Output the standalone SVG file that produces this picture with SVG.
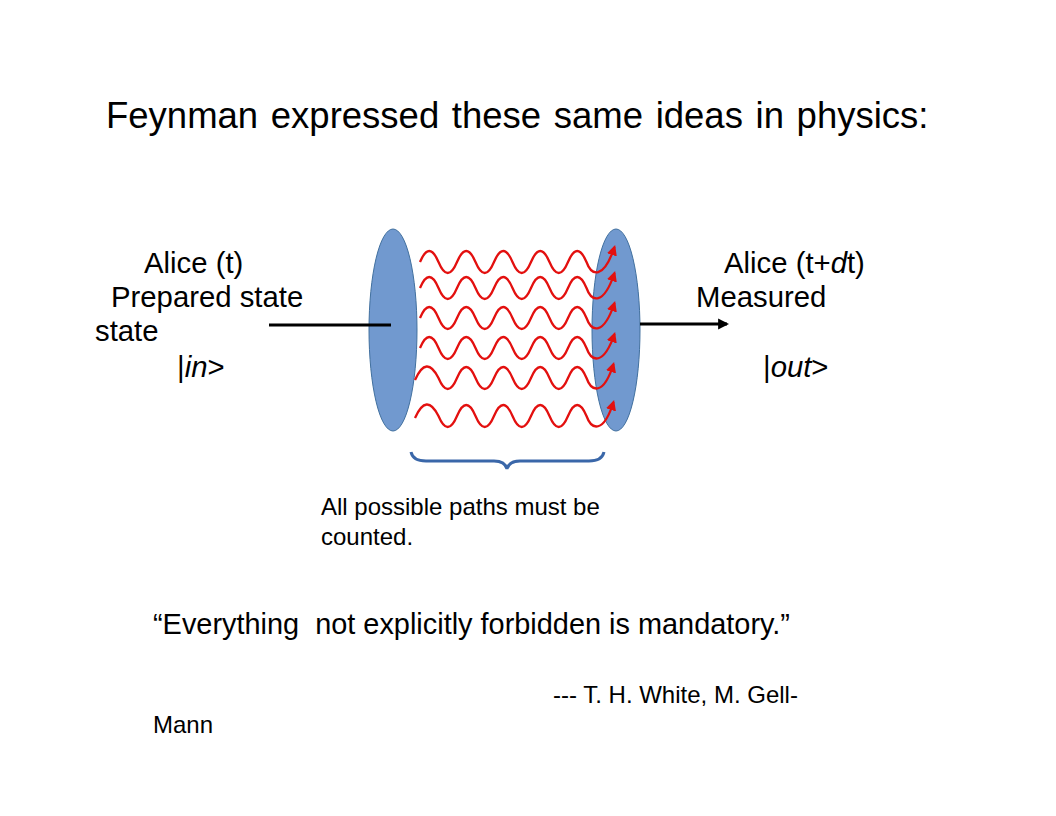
<svg xmlns="http://www.w3.org/2000/svg" width="1056" height="816" viewBox="0 0 1056 816">
<style>
text{font-family:"Liberation Sans",Arial,sans-serif;fill:#000}
.t28{font-size:29.3px}
.t24{font-size:24px}
.wave{fill:none;stroke:#E3100F;stroke-width:2.3;marker-end:url(#ra)}
.disk{fill:#7199CF;stroke:#41709F;stroke-width:1}
</style>
<defs>
<marker id="ra" viewBox="0 0 10 10" refX="8" refY="5" markerWidth="4.5" markerHeight="4.5" orient="auto" markerUnits="strokeWidth">
<path d="M0,0 L10,5 L0,10 z" fill="#E3100F"/>
</marker>
<marker id="ka" viewBox="0 0 10 10" refX="8" refY="5" markerWidth="3.7" markerHeight="3.7" orient="auto" markerUnits="strokeWidth">
<path d="M0,0 L10,5 L0,10 z" fill="#000"/>
</marker>
</defs>
<g id="title"><text x="106" y="128" style="font-size:36.5px;word-spacing:2.5px">Feynman expressed these same ideas in physics:</text></g>

<g id="left-disk"><ellipse class="disk" cx="393" cy="330" rx="24" ry="101"/></g>
<g id="right-disk"><ellipse class="disk" cx="616" cy="330" rx="24" ry="101"/></g>

<g id="connectors">
<line x1="269" y1="325" x2="391" y2="325" stroke="#000" stroke-width="3"/>
<line x1="640" y1="324" x2="727" y2="324" stroke="#000" stroke-width="3" marker-end="url(#ka)"/>
</g>

<g id="paths">
<path class="wave" d="M420,262 q9.25,-22 18.5,0 q9.25,22 18.5,0 q9.25,-22 18.5,0 q9.25,22 18.5,0 q9.25,-22 18.5,0 q9.25,22 18.5,0 q9.25,-22 18.5,0 q9.25,22 18.5,0 q9.25,-22 18.5,0 c5,14 17,18 28,-15"/>
<path class="wave" d="M420,288 q9.25,-22 18.5,0 q9.25,22 18.5,0 q9.25,-22 18.5,0 q9.25,22 18.5,0 q9.25,-22 18.5,0 q9.25,22 18.5,0 q9.25,-22 18.5,0 q9.25,22 18.5,0 q9.25,-22 18.5,0 c5,14 17,18 28,-15"/>
<path class="wave" d="M420,318 q9.25,-22 18.5,0 q9.25,22 18.5,0 q9.25,-22 18.5,0 q9.25,22 18.5,0 q9.25,-22 18.5,0 q9.25,22 18.5,0 q9.25,-22 18.5,0 q9.25,22 18.5,0 q9.25,-22 18.5,0 c5,14 17,18 28,-15"/>
<path class="wave" d="M420,348 q9.25,-22 18.5,0 q9.25,22 18.5,0 q9.25,-22 18.5,0 q9.25,22 18.5,0 q9.25,-22 18.5,0 q9.25,22 18.5,0 q9.25,-22 18.5,0 q9.25,22 18.5,0 q9.25,-22 18.5,0 c5,14 17,18 28,-14"/>
<path class="wave" d="M415,380 q11.5,-26 23.5,-2 q9.25,22 18.5,0 q9.25,-22 18.5,0 q9.25,22 18.5,0 q9.25,-22 18.5,0 q9.25,22 18.5,0 q9.25,-22 18.5,0 q9.25,22 18.5,0 q9.25,-22 18.5,0 c5,14 17,18 27,-14"/>
<path class="wave" d="M415,418 q11.5,-26 23.5,-2 q9.25,22 18.5,0 q9.25,-22 18.5,0 q9.25,22 18.5,0 q9.25,-22 18.5,0 q9.25,22 18.5,0 q9.25,-22 18.5,0 q9.25,22 18.5,0 q9.25,-22 18.5,0 c5,14 17,18 27,-14"/>
</g>

<g id="brace"><path d="M411,452 Q413,461 426,461 L494,461 Q505,461 507,469 Q509,461 520,461 L589,461 Q602,461 604,452" fill="none" stroke="#3A67A9" stroke-width="3"/></g>

<g id="alice-in">
<text class="t28" x="144" y="273">Alice (t)</text>
<text class="t28" x="111" y="307">Prepared state</text>
<text class="t28" x="95" y="341">state</text>
<text class="t28" x="177" y="377">|<tspan font-style="italic">in</tspan>&gt;</text>
</g>
<g id="alice-out">
<text class="t28" x="724" y="273">Alice (t+<tspan font-style="italic">d</tspan>t)</text>
<text class="t28" x="696" y="307">Measured</text>
<text class="t28" x="763" y="377">|<tspan font-style="italic">out</tspan>&gt;</text>
</g>
<g id="caption">
<text class="t24" x="321" y="515">All possible paths must be</text>
<text class="t24" x="321" y="545">counted.</text>
</g>
<g id="quote">
<text x="153" y="634" style="font-size:28.9px" xml:space="preserve">“Everything  not explicitly forbidden is mandatory.”</text>
<text class="t24" x="553" y="703">--- T. H. White, M. Gell-</text>
<text class="t24" x="153" y="733">Mann</text>
</g>
</svg>
